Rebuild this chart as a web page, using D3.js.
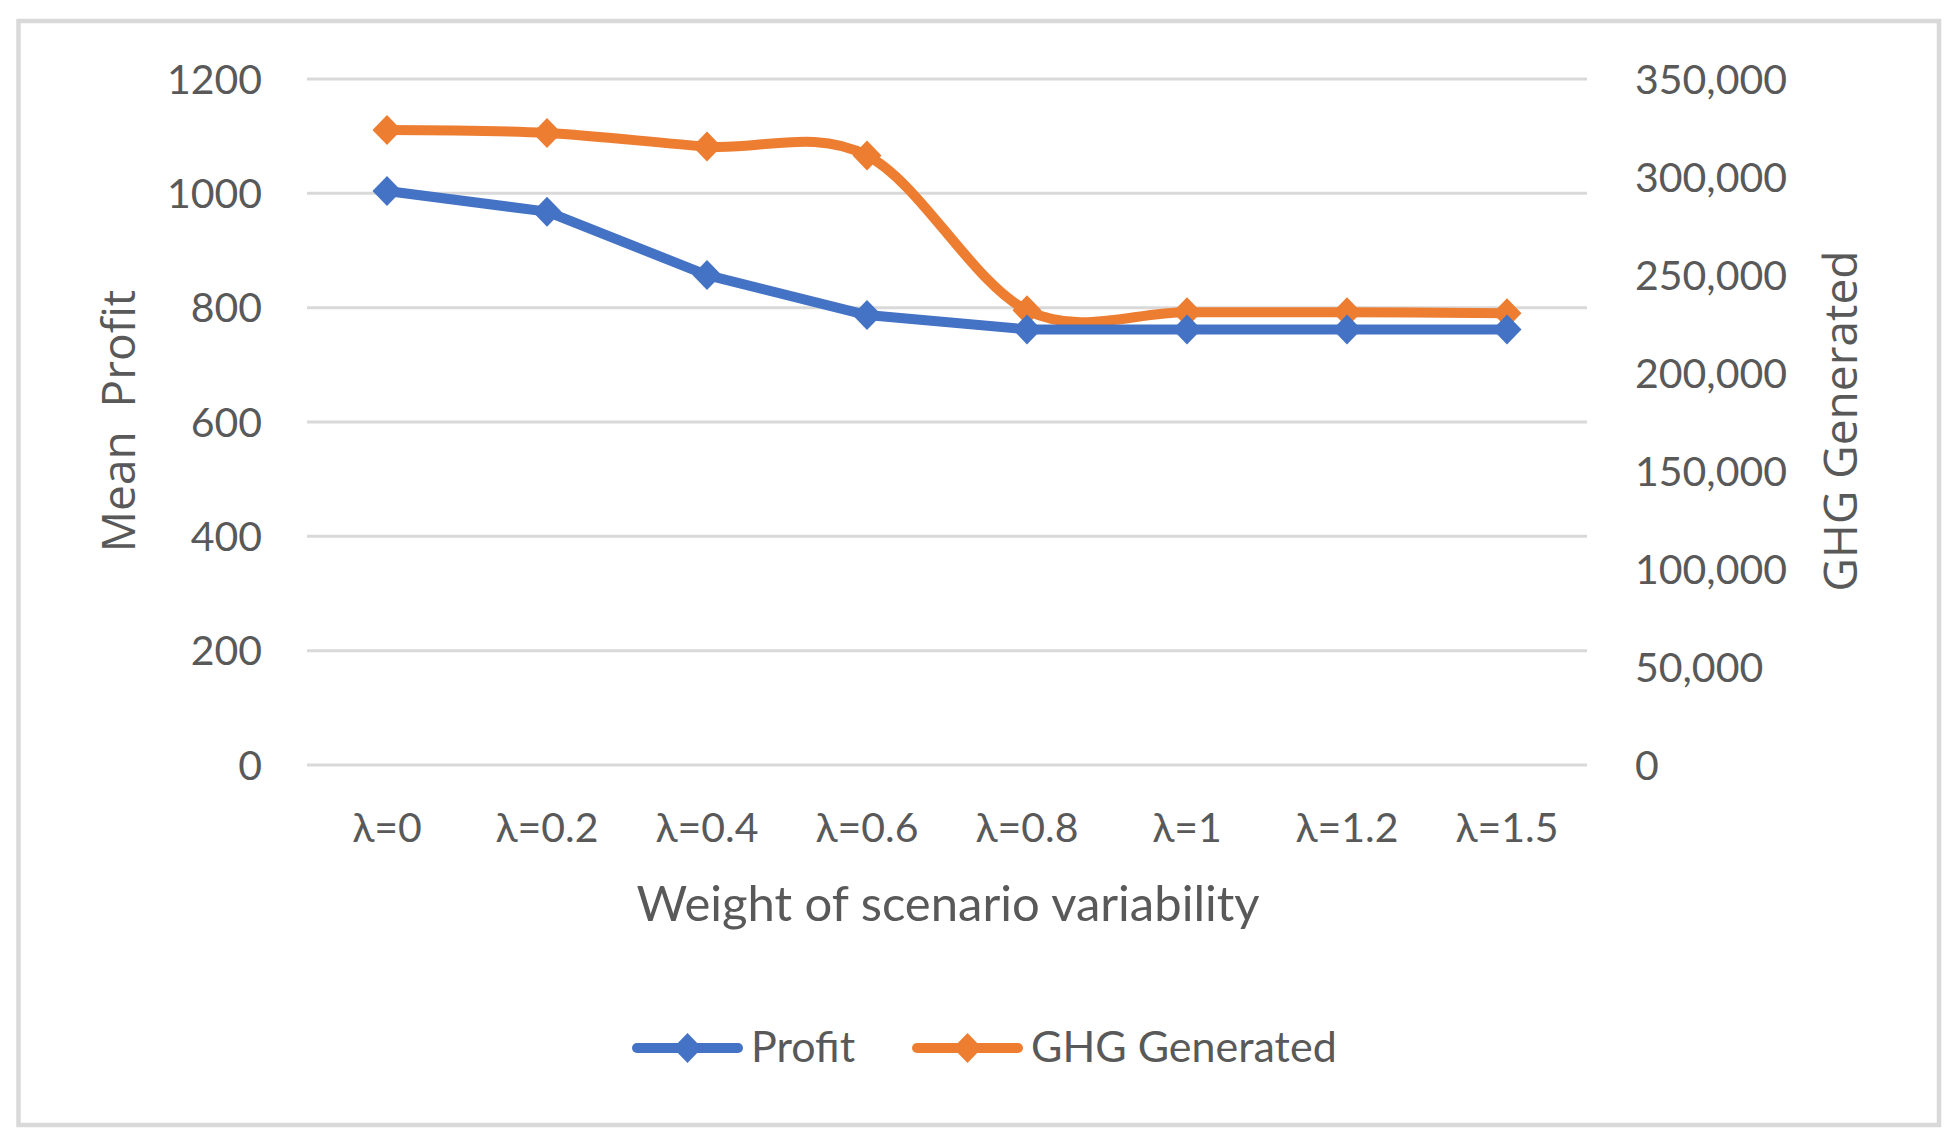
<!DOCTYPE html>
<html>
<head>
<meta charset="utf-8">
<script src="https://cdn.jsdelivr.net/npm/d3@7"></script>
<style>
body { margin: 0; background: #fff; }
</style>
</head>
<body>
<div id="chart"></div>
<script>

// data
var categories = ["λ=0", "λ=0.2", "λ=0.4", "λ=0.6", "λ=0.8", "λ=1", "λ=1.2", "λ=1.5"]
var profit = [1004, 968, 857, 787, 762, 762, 762, 762]
var ghg = [324000, 322500, 315500, 311000, 232000, 231000, 231000, 230500]
var leftTicks = [0, 200, 400, 600, 800, 1000, 1200]
var rightTicks = [0, 50000, 100000, 150000, 200000, 250000, 300000, 350000]
var seriesNames = ["Profit", "GHG Generated"]

var W = 1957, H = 1141
var textCol = "#595959"
var gridCol = "#D9D9D9"
var blue = "#4472C4", orange = "#ED7D31"
var tickFont = "Lato, 'Open Sans', sans-serif"
var titleFont = "'Open Sans', sans-serif"

var svg = d3.select("#chart").append("svg")
.attr("width", W)
.attr("height", H)

svg.append("rect")
.attr("x", 18.5)
.attr("y", 21)
.attr("width", 1920.5)
.attr("height", 1104)
.attr("fill", "white")
.attr("stroke", gridCol)
.attr("stroke-width", 4.5)

var x = d3.scaleBand().domain(categories).range([307, 1587])
var yL = d3.scaleLinear().domain([0, 1200]).range([765, 79])
var yR = d3.scaleLinear().domain([0, 350000]).range([765, 79])

function cx(d) { return x(d) + x.bandwidth() / 2 }

// gridlines
svg.append("g").selectAll("line")
.data(leftTicks)
.enter()
.append("line")
.attr("x1", 307)
.attr("x2", 1587)
.attr("y1", function(d) { return yL(d) })
.attr("y2", function(d) { return yL(d) })
.attr("stroke", gridCol)
.attr("stroke-width", 3)

// left tick labels
svg.append("g").selectAll("text")
.data(leftTicks)
.enter()
.append("text")
.attr("x", 262)
.attr("y", function(d) { return yL(d) })
.attr("dy", "0.36em")
.attr("text-anchor", "end")
.attr("font-family", tickFont)
.attr("font-size", 41)
.attr("fill", textCol)
.text(function(d) { return d })

// right tick labels
var fmt = d3.format(",")
svg.append("g").selectAll("text")
.data(rightTicks)
.enter()
.append("text")
.attr("x", 1635)
.attr("y", function(d) { return yR(d) })
.attr("dy", "0.36em")
.attr("text-anchor", "start")
.attr("font-family", tickFont)
.attr("font-size", 41)
.attr("fill", textCol)
.text(function(d) { return fmt(d) })

// category labels
svg.append("g").selectAll("text")
.data(categories)
.enter()
.append("text")
.attr("x", function(d) { return cx(d) })
.attr("y", 842)
.attr("text-anchor", "middle")
.attr("font-family", tickFont)
.attr("font-size", 41)
.attr("fill", textCol)
.text(function(d) { return d })

// axis titles
svg.append("text")
.attr("x", 948)
.attr("y", 921)
.attr("text-anchor", "middle")
.attr("font-family", tickFont)
.attr("font-size", 49)
.attr("fill", textCol)
.text("Weight of scenario variability")

svg.append("text")
.attr("transform", "translate(135,421) rotate(-90)")
.attr("text-anchor", "middle")
.attr("font-family", titleFont)
.attr("font-size", 46)
.attr("fill", textCol)
.style("white-space", "pre")
.text("Mean  Profit")

svg.append("text")
.attr("transform", "translate(1857,421) rotate(-90)")
.attr("text-anchor", "middle")
.attr("font-family", titleFont)
.attr("font-size", 46)
.attr("fill", textCol)
.text("GHG Generated")

// diamond marker
var diamond = "M0,-15L14.5,0L0,15L-14.5,0Z"

var profitLine = d3.line()
.x(function(d, i) { return cx(categories[i]) })
.y(function(d) { return yL(d) })

var ghgLine = d3.line()
.x(function(d, i) { return cx(categories[i]) })
.y(function(d) { return yR(d) })
.curve(d3.curveCardinal.tension(0))

svg.append("path")
.attr("d", ghgLine(ghg))
.attr("fill", "none")
.attr("stroke", orange)
.attr("stroke-width", 10)
.attr("stroke-linejoin", "round")
.attr("stroke-linecap", "round")

svg.append("g").selectAll("path")
.data(ghg)
.enter()
.append("path")
.attr("d", diamond)
.attr("transform", function(d, i) { return "translate(" + cx(categories[i]) + "," + yR(d) + ")" })
.attr("fill", orange)

svg.append("path")
.attr("d", profitLine(profit))
.attr("fill", "none")
.attr("stroke", blue)
.attr("stroke-width", 10)
.attr("stroke-linejoin", "round")
.attr("stroke-linecap", "round")

svg.append("g").selectAll("path")
.data(profit)
.enter()
.append("path")
.attr("d", diamond)
.attr("transform", function(d, i) { return "translate(" + cx(categories[i]) + "," + yL(d) + ")" })
.attr("fill", blue)

// legend
var legendX = [632, 912]
var legend = svg.append("g").selectAll("g")
.data(seriesNames)
.enter()
.append("g")
.attr("transform", function(d, i) { return "translate(" + legendX[i] + ",1048)" })

legend.append("line")
.attr("x1", 5)
.attr("x2", 106)
.attr("stroke", function(d, i) { return i == 0 ? blue : orange })
.attr("stroke-width", 10)
.attr("stroke-linecap", "round")

legend.append("path")
.attr("d", diamond)
.attr("transform", "translate(55.5,0)")
.attr("fill", function(d, i) { return i == 0 ? blue : orange })

legend.append("text")
.attr("x", 119)
.attr("y", 14)
.attr("font-family", tickFont)
.attr("font-size", 43)
.attr("fill", textCol)
.text(function(d) { return d })

</script>
</body>
</html>
